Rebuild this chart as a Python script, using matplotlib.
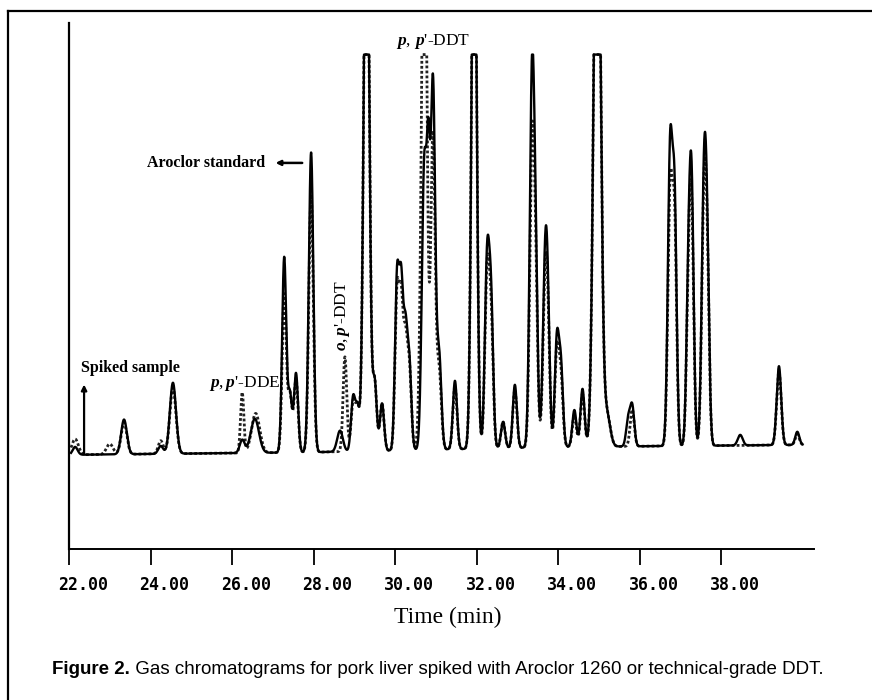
import numpy as np
import matplotlib
matplotlib.use('Agg')
import matplotlib.pyplot as plt
import matplotlib.transforms as mtransforms
from matplotlib.lines import Line2D
from matplotlib import font_manager

# --- data (retention time in min, height and width in min) ---
# Aroclor standard (solid trace)
std_rt = [22.15, 23.35, 24.25, 24.55, 26.25, 26.56, 27.28, 27.42, 27.57, 27.94,
          28.65, 28.97, 29.08, 29.30, 29.50, 29.68, 30.05, 30.15, 30.25, 30.35,
          30.72, 30.82, 30.93, 31.08, 31.47, 31.94, 32.26, 32.36, 32.65, 32.94,
          33.36, 33.45, 33.68, 33.75, 33.97, 34.07, 34.40, 34.60, 34.96, 35.20,
          35.72, 35.82, 36.75, 36.86, 37.20, 37.28, 37.58, 37.66, 38.47, 39.42,
          39.87]
std_height = [1.5, 6.6, 1.5, 13.5, 2.5, 6.5, 37, 11, 15, 57,
              4, 10, 8, 120, 13, 9, 33, 28, 22, 16,
              55, 40, 70, 18, 13, 120, 36, 25, 5, 12,
              69, 30, 32, 20, 20, 15, 7, 11, 130, 6,
              5, 7.5, 56, 44, 30, 45, 48, 30, 2, 15,
              2.5]
std_width = [0.06, 0.07, 0.06, 0.075, 0.06, 0.10, 0.05, 0.05, 0.05, 0.055,
             0.07, 0.05, 0.05, 0.065, 0.05, 0.05, 0.05, 0.045, 0.05, 0.05,
             0.06, 0.04, 0.055, 0.055, 0.05, 0.06, 0.055, 0.05, 0.05, 0.05,
             0.055, 0.05, 0.055, 0.05, 0.05, 0.05, 0.05, 0.05, 0.08, 0.08,
             0.05, 0.05, 0.055, 0.05, 0.05, 0.05, 0.055, 0.05, 0.06, 0.055,
             0.05]

# spiked sample (dotted trace)
spk_rt = [22.15, 23.00, 23.35, 24.25, 24.55, 26.25, 26.58, 27.28, 27.42, 27.57,
          27.94, 28.77, 28.97, 29.08, 29.30, 29.50, 29.68, 30.05, 30.15, 30.25,
          30.35, 30.62, 30.72, 30.93, 31.08, 31.47, 31.94, 32.26, 32.36, 32.65,
          32.94, 33.36, 33.45, 33.68, 33.75, 33.97, 34.07, 34.40, 34.60, 34.96,
          35.20, 35.82, 36.75, 36.86, 37.20, 37.28, 37.58, 37.66, 39.42, 39.87]
spk_height = [3, 2, 6, 2.5, 12.5, 11.5, 7.5, 30, 11, 14,
              49, 18, 9, 8, 120, 13, 9, 30, 25, 20,
              15, 8, 120, 60, 15, 12, 120, 33, 22, 5,
              11, 55, 28, 28, 18, 18, 13, 6, 10, 130,
              6, 7, 48, 40, 28, 40, 44, 28, 14, 2]
spk_width = [0.08, 0.08, 0.07, 0.06, 0.075, 0.04, 0.10, 0.05, 0.05, 0.05,
             0.055, 0.045, 0.05, 0.05, 0.065, 0.05, 0.05, 0.05, 0.045, 0.05,
             0.05, 0.05, 0.06, 0.055, 0.055, 0.05, 0.06, 0.055, 0.05, 0.05,
             0.05, 0.055, 0.05, 0.055, 0.05, 0.05, 0.05, 0.05, 0.05, 0.08,
             0.08, 0.05, 0.055, 0.05, 0.05, 0.05, 0.055, 0.05, 0.055, 0.05]

baseline_rt = [22.0, 28.0, 34.0, 40.0]
baseline_level = [17.9, 18.4, 19.4, 19.8]
saturation = 94.0

tick_minutes = [22, 24, 26, 28, 30, 32, 34, 36, 38]
tick_labels = ['22.00', '24.00', '26.00', '28.00', '30.00', '32.00', '34.00', '36.00', '38.00']


def trace(rt, height, width, t):
    y = np.interp(t, baseline_rt, baseline_level)
    for r, h, w in zip(rt, height, width):
        y = y + h * np.exp(-0.5 * ((t - r) / w) ** 2)
    return np.minimum(y, saturation)


names = {f.name for f in font_manager.fontManager.ttflist}
cap_family = 'Liberation Sans Narrow' if 'Liberation Sans Narrow' in names else 'Liberation Sans'

plt.rcParams['mathtext.fontset'] = 'custom'
plt.rcParams['mathtext.it'] = 'Liberation Serif:italic:bold'
plt.rcParams['mathtext.rm'] = 'Liberation Serif'

fig = plt.figure(figsize=(8.72, 7.0), dpi=100)
fig.set_facecolor('white')
ax = fig.add_axes([69/872, 1-549/700, 745/872, 526/700])

t = np.linspace(22.05, 40.0, 6000)
ax.plot(t, trace(spk_rt, spk_height, spk_width, t), color='#222222', lw=2.0,
        linestyle=(0, (1, 0.8)))
ax.plot(t, trace(std_rt, std_height, std_width, t), color='black', lw=1.7)

ax.set_xlim(22, 40.28)
ax.set_ylim(0, 100)
for s in ['top', 'right']:
    ax.spines[s].set_visible(False)
ax.spines['left'].set_linewidth(1.6)
ax.spines['bottom'].set_linewidth(1.4)
ax.set_yticks([])
ax.set_xticks(tick_minutes)
ax.tick_params(axis='x', direction='out', length=11.5, width=1.3, labelbottom=False)

# tick labels sit a little right of their ticks in the original
lab_tf = mtransforms.blended_transform_factory(ax.transData, ax.transAxes) + \
    mtransforms.ScaledTranslation(14/100, 0, fig.dpi_scale_trans)
for m, lab in zip(tick_minutes, tick_labels):
    ax.text(m, -0.068, lab, transform=lab_tf, ha='center', va='center',
            family='DejaVu Sans Mono', weight='bold', fontsize=12)

ax.text(31.3, -0.13, 'Time (min)', transform=mtransforms.blended_transform_factory(ax.transData, ax.transAxes),
        ha='center', va='center', family='Liberation Serif', fontsize=17)

# annotations
serif = 'Liberation Serif'
ax.annotate('', xy=(22.37, 31.8), xytext=(22.37, 17.6),
            arrowprops=dict(arrowstyle='-|>', lw=1.6, color='black', mutation_scale=8))
ax.text(22.29, 34.4, 'Spiked sample', ha='left', va='center', family=serif,
        weight='bold', fontsize=11.5)
ax.text(26.81, 73.4, 'Aroclor standard', ha='right', va='center', family=serif,
        weight='bold', fontsize=11.5)
ax.annotate('', xy=(27.0, 73.4), xytext=(27.79, 73.4),
            arrowprops=dict(arrowstyle='-|>', lw=1.8, color='black', mutation_scale=7))
ax.text(26.32, 31.4, r"$p,p$'-DDE", ha='center', va='center', family=serif, fontsize=12.5)
ax.text(28.70, 44.3, r"$o,p$'-DDT", ha='center', va='center', family=serif,
        fontsize=12.5, rotation=90)
ax.text(30.93, 96.4, r"$p,\,p$'-DDT", ha='center', va='center', family=serif,
        fontsize=12.5, clip_on=False)

# caption
t1 = fig.text(52/872, 1-670/700, 'Figure 2.', ha='left', va='center',
              family=cap_family, weight='bold', fontsize=13.5)
ax.annotate(' Gas chromatograms for pork liver spiked with Aroclor 1260 or technical-grade DDT.',
            xy=(1, 0), xycoords=t1, va='bottom', ha='left',
            family=cap_family, fontsize=13.5, annotation_clip=False)

# page frame (top and left edges)
fig.add_artist(Line2D([8/872, 1], [1-10.5/700, 1-10.5/700], color='black', lw=1.6,
                      transform=fig.transFigure))
fig.add_artist(Line2D([8/872, 8/872], [0, 1-10.5/700], color='black', lw=1.6,
                      transform=fig.transFigure))

fig.savefig('out.png', dpi=100, facecolor='white')
